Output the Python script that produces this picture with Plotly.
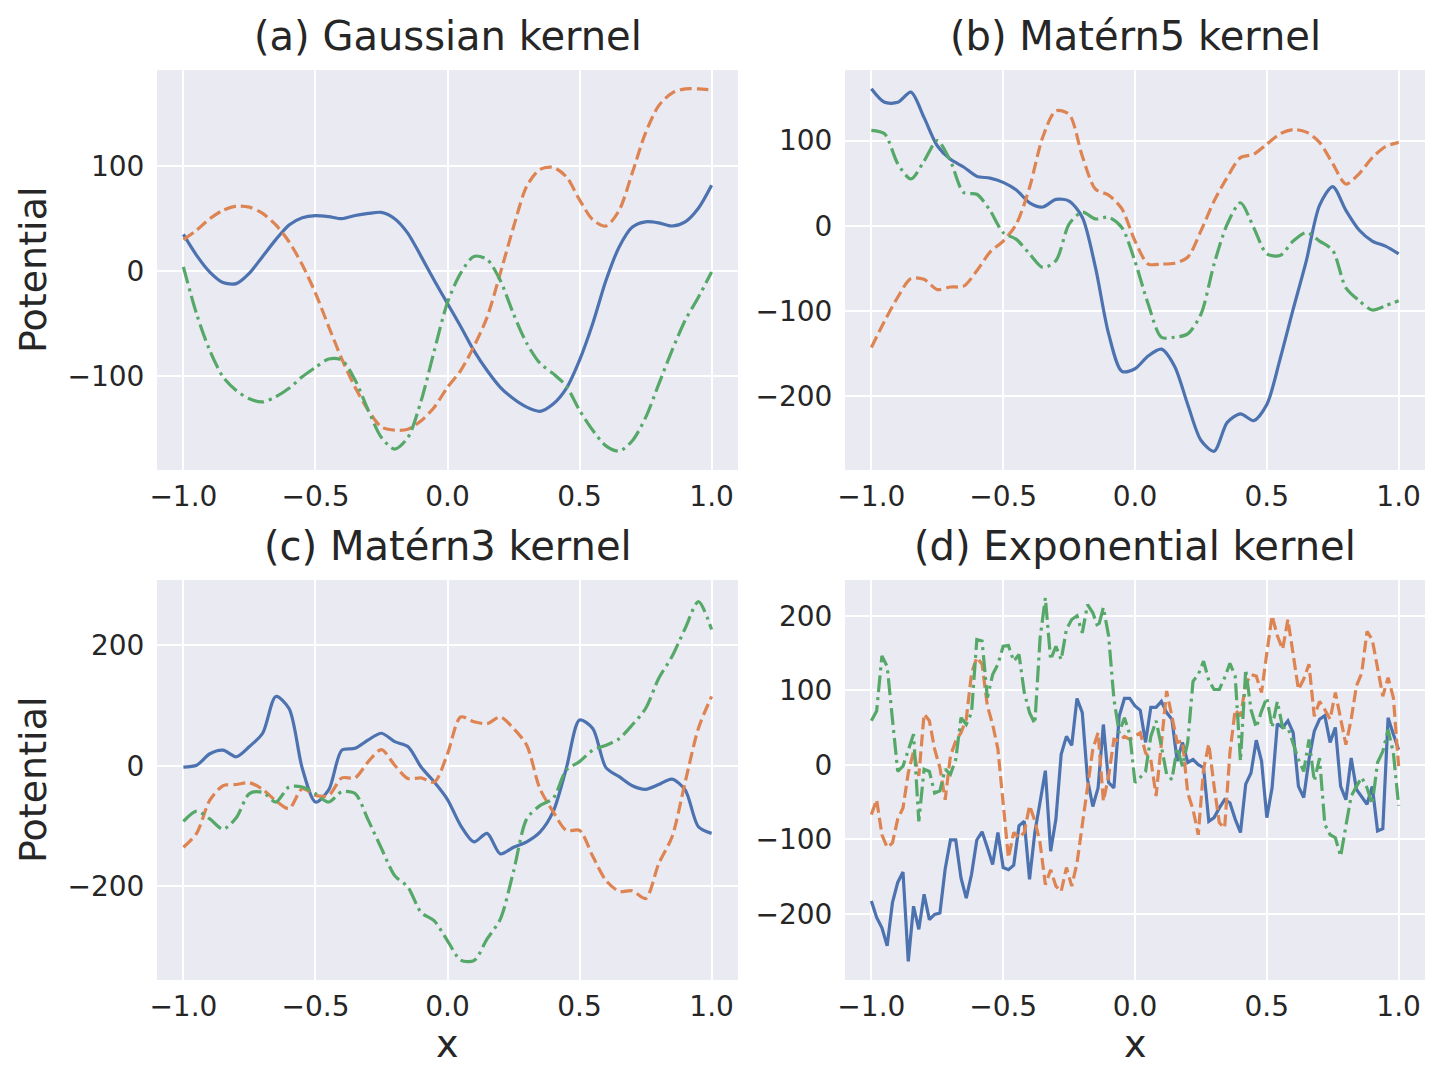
import numpy as np
import plotly.graph_objects as go

# sampling grids
x_smooth = np.round(np.linspace(-1, 1, 41), 3)
x_exp = np.round(np.linspace(-1, 1, 101), 3)

# (a) Gaussian kernel
gauss_1 = [35, 15, -1, -11, -12, -2, 14, 30, 44, 51, 53, 52, 50, 53, 55, 56, 50, 36, 14, -9,
           -31, -53, -76, -95, -111, -122, -130, -134, -127, -112, -85, -50, -9, 23, 42, 47,
           46, 43, 47, 60, 82]
gauss_2 = [30, 39, 50, 58, 62, 61, 55, 44, 28, 6, -21, -53, -84, -111, -133, -149, -152, -151,
           -143, -130, -111, -95, -72, -44, -2, 42, 81, 97, 99, 90, 68, 49, 43, 58, 94, 132,
           158, 170, 174, 174, 173]
gauss_3 = [4, -41, -76, -101, -114, -122, -125, -120, -112, -101, -92, -84, -85, -104, -133,
           -159, -170, -159, -124, -76, -30, -2, 14, 11, -9, -41, -69, -88, -98, -110, -133,
           -152, -167, -172, -162, -140, -108, -76, -47, -25, -1]

# (b) Matern5 kernel
mat5_1 = [161, 145, 145, 157, 127, 94, 78, 69, 58, 56, 51, 42, 27, 22, 31, 29, 10, -49, -127,
          -171, -168, -153, -145, -165, -210, -252, -265, -231, -221, -229, -210, -157, -98,
          -41, 24, 46, 18, -5, -18, -24, -33]
mat5_2 = [-143, -112, -84, -62, -63, -75, -72, -71, -53, -31, -18, 2, 45, 104, 135, 131, 82,
          43, 36, 20, -18, -45, -45, -44, -37, -6, 29, 57, 80, 84, 96, 108, 113, 110, 98, 73,
          49, 61, 80, 93, 98]
mat5_3 = [112, 108, 73, 55, 76, 100, 76, 39, 37, 18, -8, -16, -33, -49, -41, 2, 16, 8, 10, -2,
          -42, -92, -131, -131, -127, -104, -45, 2, 27, -2, -33, -35, -18, -8, -18, -29, -73,
          -88, -99, -94, -88]

# (c) Matern3 kernel
mat3_1 = [-2, 1, 20, 26, 15, 32, 54, 115, 95, -4, -60, -40, 26, 29, 43, 54, 40, 32, -2, -27,
          -56, -99, -126, -112, -146, -135, -126, -110, -76, -4, 76, 62, -3, -18, -33, -39,
          -31, -22, -40, -101, -112]
mat3_2 = [-135, -112, -57, -33, -31, -28, -39, -58, -71, -38, -49, -49, -20, -20, 7, 27, 1,
          -21, -20, -27, 20, 81, 73, 70, 81, 62, 34, -38, -76, -107, -107, -150, -190, -208,
          -207, -220, -162, -118, -27, 62, 115]
mat3_3 = [-92, -75, -88, -105, -86, -46, -44, -60, -35, -35, -46, -60, -43, -46, -90, -137,
          -182, -201, -243, -257, -290, -322, -323, -287, -254, -175, -88, -66, -54, -7, 7, 26,
          34, 45, 68, 95, 145, 181, 228, 272, 226]

# (d) Exponential kernel
exp_1 = [-183, -205, -219, -243, -185, -158, -144, -264, -190, -221, -174, -208, -201, -199,
         -140, -101, -101, -152, -179, -147, -101, -90, -111, -134, -91, -138, -141, -135, -82,
         -76, -154, -91, -50, -8, -116, -73, 14, 38, 26, 89, 70, -20, -56, -31, 54, -24, -31,
         65, 89, 89, 79, 73, 30, 77, 77, 85, 70, 61, 5, 30, 3, 7, 0, -4, -76, -71, -58, -47,
         -51, -73, -91, -26, -11, 33, 5, -71, -31, 55, 50, 59, 43, -29, -44, 7, 45, 61, 66, 30,
         50, -29, -47, 9, -33, -44, -53, -29, -89, -86, 63, 41, 20]
exp_2 = [-67, -47, -94, -111, -105, -73, -58, -11, 18, -15, 68, 59, 21, -4, -47, 12, 32, 43,
         61, 123, 144, 135, 79, 54, 21, -47, -125, -91, -98, -91, -55, -75, -105, -161, -141,
         -163, -170, -138, -163, -132, -82, -29, 21, 43, -49, -15, 34, 32, 38, 34, 38, 43, 16,
         7, -42, 30, 99, 65, 30, 32, -38, -60, -94, -6, 28, -29, -78, -85, 16, 74, 65, 108,
         121, 119, 97, 150, 200, 173, 155, 195, 146, 101, 115, 135, 65, 85, 74, 61, 97, 61, 27,
         61, 106, 123, 179, 168, 128, 92, 117, 90, -2]
exp_3 = [59, 72, 146, 132, 61, -9, -2, 18, 41, -76, -6, -9, -38, -35, -6, -13, 7, 63, 54, 70,
         168, 166, 90, 121, 135, 159, 160, 139, 148, 97, 70, 55, 170, 224, 141, 159, 141, 182,
         195, 200, 177, 215, 204, 184, 211, 173, 88, 43, 63, 41, -24, -17, -9, 38, 59, 25, -13,
         -20, 23, -2, 30, 112, 121, 139, 113, 101, 101, 117, 136, 119, 5, 128, 74, 50, 72, 90,
         50, 85, 50, 50, 27, 7, -9, 34, -22, 9, -80, -94, -98, -123, -82, -42, -29, -17, -31,
         -53, 3, 18, 47, 16, -55]

titles = ["(a) Gaussian kernel", "(b) Mate\u0301rn5 kernel",
          "(c) Mate\u0301rn3 kernel", "(d) Exponential kernel"]
y_ticks = [[-100, 0, 100], [-200, -100, 0, 100], [-200, 0, 200], [-200, -100, 0, 100, 200]]
y_ranges = [[-190, 192], [-287, 183], [-355, 308], [-289, 248]]
x_ticks = [-1.0, -0.5, 0.0, 0.5, 1.0]

colors = ["#4C72B0", "#DD8452", "#55A868"]
dashes = ["solid", "12px,5px", "17px,5px,3px,5px"]

panels = [
    (x_smooth, [gauss_1, gauss_2, gauss_3], "spline"),
    (x_smooth, [mat5_1, mat5_2, mat5_3], "spline"),
    (x_smooth, [mat3_1, mat3_2, mat3_3], "spline"),
    (x_exp, [exp_1, exp_2, exp_3], "linear"),
]

# the page body adds an 8px margin, so the figure is drawn 8px smaller
OFF = 8
W, H = 1440 - OFF, 1080 - OFF
# plot boxes in window pixels: left, right, top, bottom
boxes = [(157, 738, 70, 470), (845, 1425, 70, 470),
         (157, 738, 580, 980), (845, 1425, 580, 980)]

FONT = "DejaVu Sans"
TXT = "#262626"


def px(v):
    return (v - OFF) / W


def py(v):
    return 1 - (v - OFF) / H


fig = go.Figure()
layout = dict(
    template="none",
    width=W, height=H,
    margin=dict(l=0, r=0, t=0, b=0),
    paper_bgcolor="white",
    plot_bgcolor="#EAEAF2",
    showlegend=False,
    font=dict(family=FONT, color=TXT, size=28),
    annotations=[],
)

for k, (xs, series, shape) in enumerate(panels):
    n = "" if k == 0 else str(k + 1)
    for s, ys in enumerate(series):
        line = dict(color=colors[s], width=3.2, dash=dashes[s], shape=shape)
        if shape == "spline":
            line["smoothing"] = 0.8
        fig.add_trace(go.Scatter(x=xs, y=ys, mode="lines", line=line,
                                 xaxis="x" + n, yaxis="y" + n, hoverinfo="skip"))
    l, r, t, b = boxes[k]
    layout["xaxis" + n] = dict(
        domain=[px(l), px(r)], anchor="y" + n, range=[-1.1, 1.1], automargin=False,
        tickvals=x_ticks, tickformat=".1f", showgrid=True, gridcolor="white",
        gridwidth=1.5, zeroline=False, showline=False, ticks="outside",
        ticklen=1, tickcolor="rgba(0,0,0,0)", tickfont=dict(size=28),
    )
    layout["yaxis" + n] = dict(
        domain=[py(b), py(t)], anchor="x" + n, range=y_ranges[k], automargin=False,
        tickvals=y_ticks[k], showgrid=True, gridcolor="white", gridwidth=1.5,
        zeroline=False, showline=False, ticks="outside", ticklen=6,
        tickcolor="rgba(0,0,0,0)", tickfont=dict(size=28),
    )
    cx = px((l + r) / 2)
    layout["annotations"].append(dict(
        text=titles[k], x=cx, y=py(t - 34), xref="paper", yref="paper",
        xanchor="center", yanchor="middle", showarrow=False, font=dict(size=40)))
    if k >= 2:
        layout["annotations"].append(dict(
            text="x", x=cx, y=py(1044), xref="paper", yref="paper",
            xanchor="center", yanchor="middle", showarrow=False, font=dict(size=38)))
    if k % 2 == 0:
        layout["annotations"].append(dict(
            text="Potential", x=px(33), y=py((t + b) / 2), xref="paper",
            yref="paper", xanchor="center", yanchor="middle", textangle=-90,
            showarrow=False, font=dict(size=38)))

fig.update_layout(**layout)
fig.write_html("out.html")
